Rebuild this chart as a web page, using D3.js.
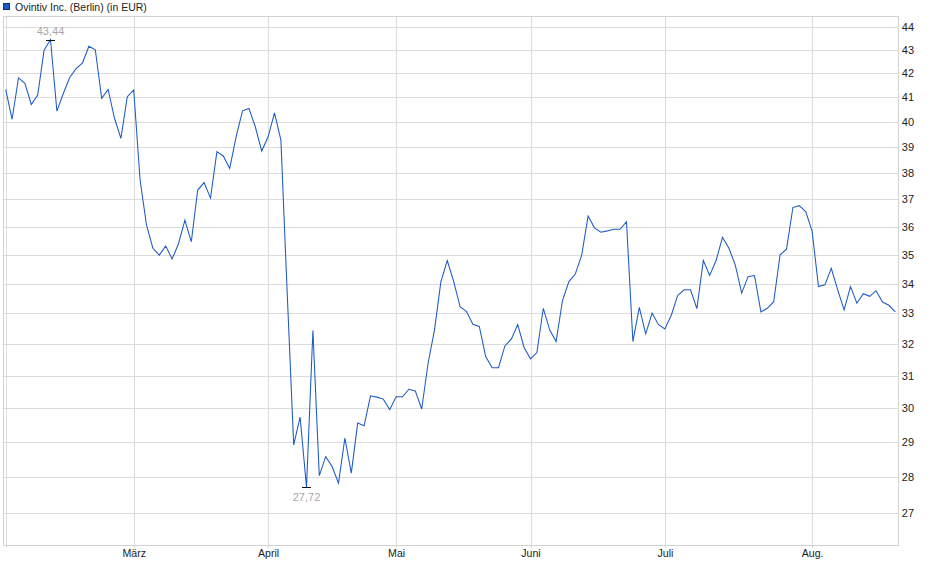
<!DOCTYPE html>
<html>
<head>
<meta charset="utf-8">
<script src="https://cdn.jsdelivr.net/npm/d3@7"></script>
<style>
  html, body { margin: 0; padding: 0; background: #fff; }
  svg { display: block; font-family: "Liberation Sans", Arial, sans-serif; }
</style>
</head>
<body>
<svg id="chart" width="940" height="579"></svg>
<script>
// ---- Data (trading-day index -> closing price in EUR) ----
const seriesName = "Ovintiv Inc. (Berlin) (in EUR)";
const prices = [
  41.32, 40.10, 41.80, 41.57, 40.70, 41.09, 42.98, 43.44, 40.43, 41.15,
  41.82, 42.19, 42.43, 43.15, 43.00, 40.95, 41.32, 40.14, 39.34, 41.02,
  41.30, 37.73, 36.06, 35.23, 34.99, 35.31, 34.85, 35.39, 36.24, 35.46,
  37.35, 37.63, 37.05, 38.82, 38.65, 38.17, 39.40, 40.44, 40.54, 39.80,
  38.84, 39.40, 40.36, 39.27, 33.60, 28.92, 29.74, 27.72, 32.44, 28.04,
  28.58, 28.30, 27.83, 29.12, 28.11, 29.56, 29.48, 30.38, 30.34, 30.28,
  29.96, 30.35, 30.35, 30.58, 30.53, 29.98, 31.39, 32.46, 34.07, 34.80,
  34.07, 33.22, 33.06, 32.64, 32.57, 31.60, 31.25, 31.25, 31.94, 32.16,
  32.63, 31.89, 31.53, 31.73, 33.17, 32.46, 32.08, 33.43, 34.07, 34.33,
  34.99, 36.39, 35.96, 35.80, 35.85, 35.91, 35.91, 36.18, 32.08, 33.20,
  32.33, 33.01, 32.63, 32.49, 32.94, 33.60, 33.79, 33.79, 33.16, 34.80,
  34.28, 34.80, 35.62, 35.23, 34.64, 33.68, 34.24, 34.28, 33.05, 33.17,
  33.39, 35.00, 35.20, 36.70, 36.77, 36.55, 35.84, 33.90, 33.96, 34.53,
  33.79, 33.12, 33.90, 33.34, 33.66, 33.57, 33.76, 33.38, 33.27, 33.05
];
// month gridlines at first trading day of each month (index into prices)
const monthTickIdx = [0, 20, 41, 61, 82, 103, 126];
const monthLabels  = ["", "März", "April", "Mai", "Juni", "Juli", "Aug."];
const yTickValues  = [27, 28, 29, 30, 31, 32, 33, 34, 35, 36, 37, 38, 39, 40, 41, 42, 43, 44];
const yDomain      = [26.155, 44.48];

// ---- Layout ----
const plot = { left: 2.7, right: 898.3, top: 16, bottom: 545 };
const svg = d3.select("#chart");

const x = d3.scaleLinear().domain([0, prices.length - 1]).range([5.7, 895.3]);
const y = d3.scaleLog().domain(yDomain).range([plot.bottom, plot.top]);

const gridColor = "#dcdcdc";

// horizontal gridlines
svg.append("g").selectAll("line").data(yTickValues).join("line")
  .attr("x1", plot.left).attr("x2", plot.right)
  .attr("y1", d => Math.round(y(d)) + 0.5).attr("y2", d => Math.round(y(d)) + 0.5)
  .attr("stroke", gridColor).attr("stroke-width", 1);

// vertical gridlines
svg.append("g").selectAll("line").data(monthTickIdx).join("line")
  .attr("x1", d => Math.round(x(d)) + 0.5).attr("x2", d => Math.round(x(d)) + 0.5)
  .attr("y1", plot.top).attr("y2", plot.bottom + 3)
  .attr("stroke", gridColor).attr("stroke-width", 1);

// plot border
svg.append("rect")
  .attr("x", Math.round(plot.left) + 0.5).attr("y", plot.top + 0.5)
  .attr("width", Math.round(plot.right) - Math.round(plot.left))
  .attr("height", plot.bottom - plot.top)
  .attr("fill", "none").attr("stroke", "#d2d2d2").attr("stroke-width", 1);

// y axis labels (right)
const yAxis = d3.axisRight(y).tickValues(yTickValues).tickFormat(d3.format("d")).tickSize(0).tickPadding(0);
const gy = svg.append("g").attr("transform", `translate(${plot.right + 3.5},0)`).call(yAxis);
gy.select(".domain").remove();
gy.selectAll("text").attr("font-size", 11).attr("fill", "#222")
  .attr("font-family", "'Liberation Sans', Arial, sans-serif");

// x axis labels (bottom)
const xAxis = d3.axisBottom(x).tickValues(monthTickIdx)
  .tickFormat((d, i) => monthLabels[i]).tickSize(0).tickPadding(0);
const gx = svg.append("g").attr("transform", `translate(0,${plot.bottom + 4})`).call(xAxis);
gx.select(".domain").remove();
gx.selectAll("text").attr("font-size", 10.6).attr("fill", "#222")
  .attr("font-family", "'Liberation Sans', Arial, sans-serif");

// price line
const line = d3.line().x((d, i) => x(i)).y(d => y(d));
svg.append("path").datum(prices)
  .attr("d", line).attr("fill", "none")
  .attr("stroke", "#1c5ac6").attr("stroke-width", 1.05)
  .attr("stroke-linejoin", "miter");

// high / low annotations
const fmt = v => v.toFixed(2).replace(".", ",");
const hiIdx = d3.maxIndex(prices), loIdx = d3.minIndex(prices);
const ann = svg.append("g");
[[hiIdx, -1], [loIdx, 1]].forEach(([idx, dir]) => {
  const px = x(idx), py = y(prices[idx]);
  ann.append("line")
    .attr("x1", px - 4.5).attr("x2", px + 4.5)
    .attr("y1", Math.round(py) + 0.5).attr("y2", Math.round(py) + 0.5)
    .attr("stroke", "#111").attr("stroke-width", 1);
  ann.append("text")
    .attr("x", px).attr("y", dir < 0 ? py - 5 : py + 13.5)
    .attr("text-anchor", "middle").attr("font-size", 11).attr("fill", "#a8a8a8")
    .text(fmt(prices[idx]));
});

// legend
svg.append("rect").attr("x", 3.5).attr("y", 3.5).attr("width", 6).attr("height", 6)
  .attr("fill", "#1c5ac6").attr("stroke", "#0d2f73").attr("stroke-width", 1);
svg.append("text").attr("x", 15).attr("y", 10.5).attr("font-size", 10.5).attr("fill", "#222")
  .text(seriesName);
</script>
</body>
</html>
